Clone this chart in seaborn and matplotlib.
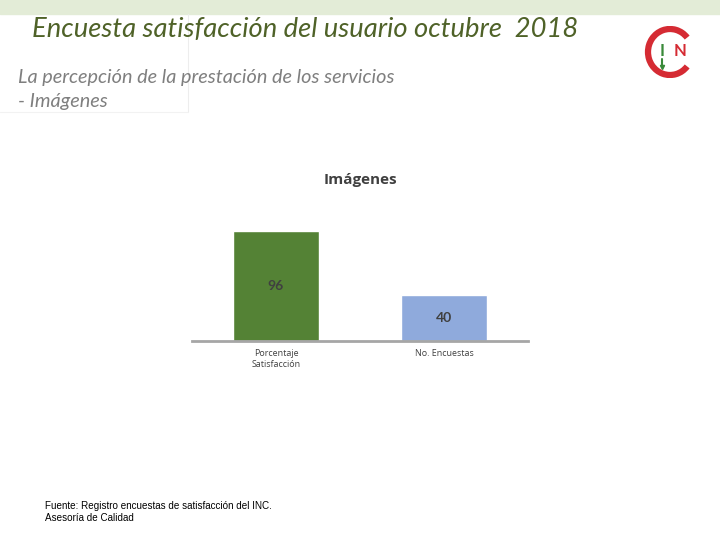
import matplotlib
matplotlib.use("Agg")
import matplotlib.pyplot as plt
import seaborn as sns
import pandas as pd
from matplotlib.patches import Rectangle, Arc

categories = ["Porcentaje\nSatisfacción", "No. Encuestas"]
values = [96, 40]
bar_colors = ["#548235", "#8faadc"]

sns.set_theme(style="white")
plt.rcParams['font.family'] = ['Lato', 'DejaVu Sans']

fig = plt.figure(figsize=(7.2, 5.4), dpi=100)
W, H = 720, 540

def fx(x): return x / W
def fy(y): return 1 - y / H

# top band
fig.patches.append(Rectangle((0, fy(14)), 1, 14 / H, transform=fig.transFigure,
                             color="#e3ecd7", zorder=0))
# faint frame lines
fig.add_artist(plt.Line2D([fx(188), fx(188)], [fy(14), fy(112)], transform=fig.transFigure,
                          color="#ededed", lw=0.8))
fig.add_artist(plt.Line2D([fx(0), fx(188)], [fy(112), fy(112)], transform=fig.transFigure,
                          color="#f2f2f2", lw=0.8))

fig.text(fx(32), fy(30), "Encuesta satisfacción del usuario octubre  2018", fontsize=19.7,
         style="italic", color="#4f6228", va="center", ha="left")
fig.text(fx(18), fy(77), "La percepción de la prestación de los servicios", fontsize=14.3,
         style="italic", color="#7f7f7f", va="center", ha="left")
fig.text(fx(18), fy(101), "- Imágenes", fontsize=14.3,
         style="italic", color="#7f7f7f", va="center", ha="left")

# chart
ax = fig.add_axes([fx(192), fy(341), fx(528) - fx(192), (341 - 204) / H])
df = pd.DataFrame({"cat": categories, "val": values})
sns.barplot(data=df, x="cat", y="val", hue="cat", palette=bar_colors, legend=False,
            width=0.51, saturation=1, ax=ax)
ax.set_xlim(-0.5, 1.5)
ax.set_ylim(0, 120)
ax.set_xlabel("")
ax.set_ylabel("")
ax.set_yticks([])
for s in ["top", "right", "left"]:
    ax.spines[s].set_visible(False)
ax.spines["bottom"].set_color("#a6a6a6")
ax.spines["bottom"].set_linewidth(2)
ax.tick_params(axis="x", length=0, pad=6, labelsize=6.4, labelcolor="#404040")
for lbl in ax.get_xticklabels():
    lbl.set_fontfamily(["Open Sans", "DejaVu Sans"])
for i, v in enumerate(values):
    ax.text(i, v / 2, str(v), ha="center", va="center", fontsize=10,
            color="#404040", fontweight="bold")
ax.patch.set_alpha(0)

fig.text(fx(360), fy(180), "Imágenes", fontsize=11, color="#404040",
         ha="center", va="center", fontweight="bold",
         family=["Open Sans", "DejaVu Sans"])

fig.text(fx(45), fy(506), "Fuente: Registro encuestas de satisfacción del INC.", fontsize=7.1,
         color="#000000", ha="left", va="center", family=["Liberation Sans", "DejaVu Sans"])
fig.text(fx(45), fy(518), "Asesoría de Calidad", fontsize=7.1,
         color="#000000", ha="left", va="center", family=["Liberation Sans", "DejaVu Sans"])

# logo
lax = fig.add_axes([fx(644), fy(78), fx(696) - fx(644), 52 / H])
lax.set_xlim(0, 52)
lax.set_ylim(0, 52)
lax.set_aspect("equal")
lax.axis("off")
lax.add_patch(Arc((26, 26), 44, 46, theta1=40, theta2=320, color="#d52b33", lw=4.5))
lax.text(18, 27, "I", color="#3a8a3a", fontsize=12, fontweight="bold", ha="center", va="center")
lax.plot([18, 18], [11, 19], color="#3a8a3a", lw=1.5)
lax.plot([18], [11], marker="v", color="#3a8a3a", ms=3)
lax.text(36, 27, "N", color="#d52b33", fontsize=12, fontweight="bold", ha="center", va="center")

fig.savefig("out.png", dpi=100)
